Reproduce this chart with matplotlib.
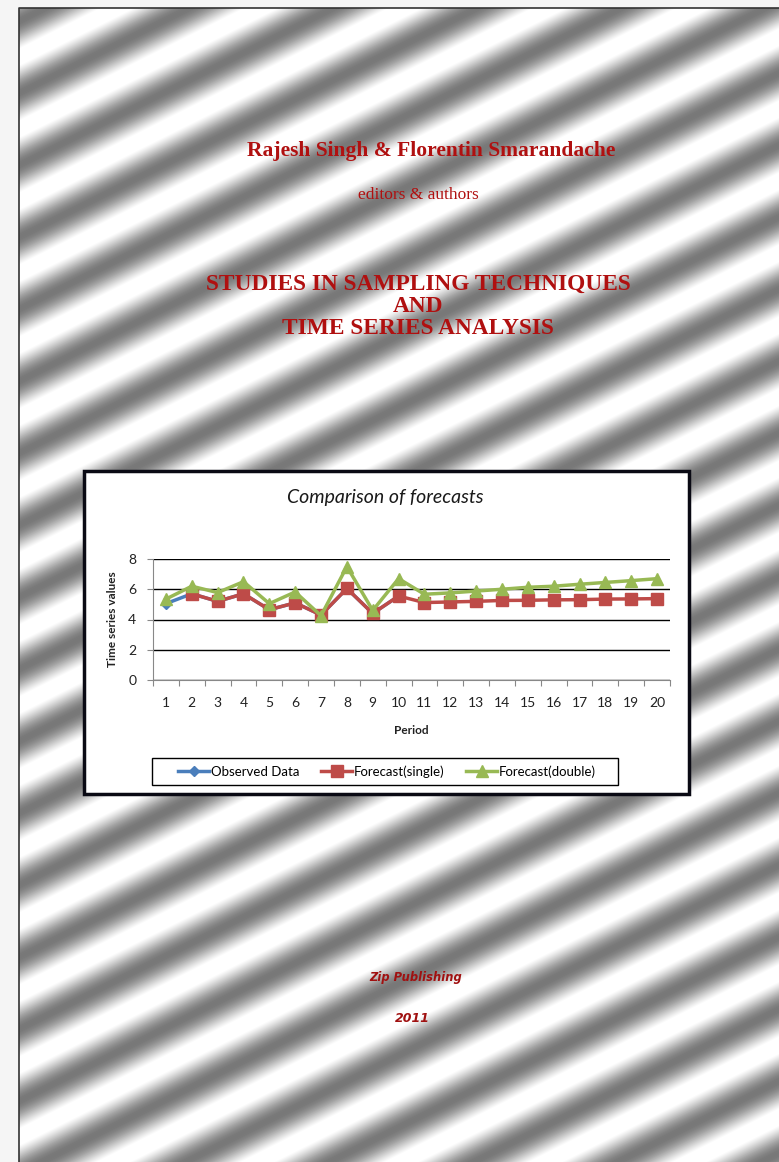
import numpy as np
import matplotlib
matplotlib.use("Agg")
import matplotlib.pyplot as plt
from matplotlib.patches import Rectangle

# data
periods = list(range(1, 21))
observed = [5.05, 5.7, 5.2, 5.7, 4.65, 5.1, 4.3, 6.05, 4.4, 5.55]
single = [np.nan, 5.7, 5.2, 5.7, 4.65, 5.1, 4.3, 6.05, 4.4, 5.55,
          5.12, 5.16, 5.2, 5.26, 5.27, 5.3, 5.31, 5.35, 5.36, 5.38]
double = [5.35, 6.2, 5.78, 6.5, 5.05, 5.82, 4.25, 7.5, 4.6, 6.7,
          5.67, 5.76, 5.88, 6.0, 6.13, 6.2, 6.33, 6.45, 6.57, 6.7]
yticks = [0, 2, 4, 6, 8]

W, H = 779, 1162
fig = plt.figure(figsize=(W / 100, H / 100), dpi=100)

# --- cover background (diagonal silver stripes) ---
bg = fig.add_axes([0, 0, 1, 1])
bg.set_xlim(0, W)
bg.set_ylim(H, 0)
bg.axis("off")
yy, xx = np.mgrid[0:H, 0:W]
v = 0.5 + 0.5 * np.cos(2 * np.pi * (yy + 0.5 * xx - 66) / 72.0)
img = np.clip(0.47 + 0.6 * v, 0, 1)
img[(xx < 19) | (yy < 8)] = 0.96
bg.imshow(img, cmap="gray", vmin=0, vmax=1, extent=(0, W, H, 0),
          interpolation="bilinear", aspect="auto")
bg.plot([19, 19, W], [H, 8, 8], color="#333333", lw=1.2)

red = "#b01010"
bg.text(431, 151, "Rajesh Singh & Florentin Smarandache", ha="center", va="center",
        family="Liberation Serif", weight="bold", fontsize=15.5, color=red)
bg.text(418, 195, "editors & authors", ha="center", va="center",
        family="Liberation Serif", fontsize=12.5, color=red)
for txt, y in [("STUDIES IN SAMPLING TECHNIQUES", 284), ("AND", 307),
               ("TIME SERIES ANALYSIS", 329)]:
    bg.text(418, y, txt, ha="center", va="center", family="Liberation Serif",
            weight="bold", fontsize=16.8, color=red)
bg.text(416, 978, "Zip Publishing", ha="center", va="center", family="DejaVu Sans",
        style="italic", weight="bold", fontsize=8.3, color="#a01010")
bg.text(412, 1018, "2011", ha="center", va="center", family="DejaVu Sans",
        style="italic", weight="bold", fontsize=9, color="#a01010")

# chart box
bg.add_patch(Rectangle((84, 471), 605, 323, facecolor="white",
                       edgecolor="#0a0a14", lw=2.5, zorder=3))
bg.text(385, 497, "Comparison of forecasts", ha="center", va="center",
        family="Lato", style="italic", fontsize=14, color="#1a1a1a", zorder=4)
bg.text(113, 619, "Time series values", ha="center", va="center", rotation=90,
        family="Lato", weight="bold", fontsize=8.5, color="#222222", zorder=4)
bg.text(411, 731, "Period", ha="center", va="center",
        family="Lato", weight="bold", fontsize=8.5, color="#222222", zorder=4)
# legend frame
bg.add_patch(Rectangle((152, 758), 466, 27, facecolor="white",
                       edgecolor="black", lw=1, zorder=4))

# --- the line chart ---
ax = fig.add_axes([153 / W, 1 - 680 / H, 517 / W, 121 / H])
ax.set_facecolor("none")
ax.plot(periods[:len(observed)], observed, color="#4a7ebb", lw=2.5,
        marker="D", ms=5.5, label="Observed Data", zorder=3)
ax.plot(periods, single, color="#be4b48", lw=2.5, marker="s", ms=8,
        label="Forecast(single)", zorder=4)
ax.plot(periods, double, color="#98b954", lw=2.5, marker="^", ms=9,
        label="Forecast(double)", zorder=5)
ax.set_xlim(0.5, 20.5)
ax.set_ylim(0, 8)
ax.set_yticks(yticks)
ax.yaxis.grid(True, color="black", lw=1)
ax.set_axisbelow(True)
ax.set_xticks([p - 0.5 for p in periods] + [20.5])
ax.set_xticklabels([])
ax.set_xticks(periods, minor=True)
ax.set_xticklabels([str(p) for p in periods], minor=True, family="Lato",
                   fontsize=10, color="#222222")
ax.tick_params(axis="x", which="minor", length=0, pad=12)
ax.tick_params(axis="x", which="major", length=4, color="#888888")
ax.tick_params(axis="y", length=4, color="#888888", labelsize=10, pad=8)
for lab in ax.get_yticklabels():
    lab.set_family("Lato")
    lab.set_color("#222222")
for s in ["top", "right"]:
    ax.spines[s].set_visible(False)
ax.spines["left"].set_color("#888888")
ax.spines["bottom"].set_color("#888888")

leg = fig.legend(loc="center", bbox_to_anchor=(387 / W, 1 - 771.5 / H), ncol=3,
                 frameon=False, prop={"family": "Lato", "size": 9.5},
                 handlelength=2.35, columnspacing=1.67, borderpad=0.2,
                 handletextpad=0.1)
leg.set_zorder(10)

fig.savefig("out.png", dpi=100)
